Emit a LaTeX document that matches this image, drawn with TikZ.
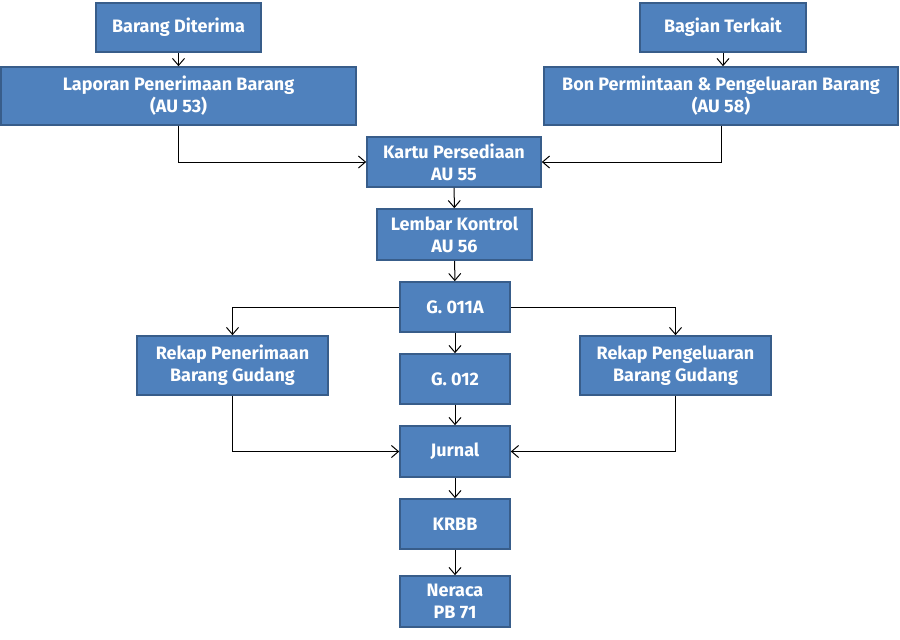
\documentclass[tikz,border=0pt]{standalone}
\usepackage{fontspec}
\setmainfont{Fira Sans}
\usetikzlibrary{arrows.meta}
\definecolor{boxfill}{HTML}{4F81BD}
\definecolor{boxline}{HTML}{385D8A}
\tikzset{
  blk/.style={draw=boxline, line width=1.6pt, fill=boxfill, text=white,
    font=\bfseries\fontsize{18}{22}\selectfont, align=center, inner sep=0pt,
    minimum width=#1, anchor=center},
  conn/.style={draw=black, line width=1pt, -{Straight Barb[length=7pt,width=12pt,line width=1pt]}}
}
\begin{document}
\begin{tikzpicture}[x=1pt,y=-1pt]
\fill[white] (0,0) rectangle (900,640);
\useasboundingbox (0,0) rectangle (900,640);
\node[blk=165pt, minimum height=49pt] (bd) at (178.5,27.5) {Barang Diterima};
\node[blk=355pt, minimum height=58pt] (lpb) at (178.5,96) {Laporan Penerimaan Barang\\(AU 53)};
\node[blk=166pt, minimum height=49pt] (bt) at (723,27.5) {Bagian Terkait};
\node[blk=354pt, minimum height=58pt] (bon) at (721,96) {Bon Permintaan \& Pengeluaran Barang\\(AU 58)};
\node[blk=174pt, minimum height=50pt] (kp) at (454,162) {Kartu Persediaan\\AU 55};
\node[blk=155pt, minimum height=51pt] (lk) at (454.5,234.5) {Lembar Kontrol\\AU 56};
\node[blk=110pt, minimum height=50pt] (g11) at (455,307) {G. 011A};
\node[blk=191pt, minimum height=59pt] (rpn) at (232.5,365.5) {Rekap Penerimaan\\Barang Gudang};
\node[blk=110pt, minimum height=50pt] (g12) at (455,379) {G. 012};
\node[blk=191pt, minimum height=59pt] (rpg) at (675.5,365.5) {Rekap Pengeluaran\\Barang Gudang};
\node[blk=110pt, minimum height=51pt] (jur) at (455,451.5) {Jurnal};
\node[blk=110pt, minimum height=50pt] (krbb) at (455,524) {KRBB};
\node[blk=110pt, minimum height=51pt] (ner) at (455,601.5) {Neraca\\PB 71};

\draw[conn] (bd) -- (lpb);
\draw[conn] (bt.south) -- (bt.south |- bon.north);
\draw[conn] (lpb.south) |- (kp.west);
\draw[conn] (bon.south) |- (kp.east);
\draw[conn] (kp) -- (lk);
\draw[conn] (lk) -- (g11);
\draw[conn] (g11) -- (g12);
\draw[conn] (g12) -- (jur);
\draw[conn] (jur) -- (krbb);
\draw[conn] (krbb) -- (ner);
\draw[conn] (g11.west) -| (rpn.north);
\draw[conn] (g11.east) -| (rpg.north);
\draw[conn] (rpn.south) |- (jur.west);
\draw[conn] (rpg.south) |- (jur.east);
\end{tikzpicture}
\end{document}
